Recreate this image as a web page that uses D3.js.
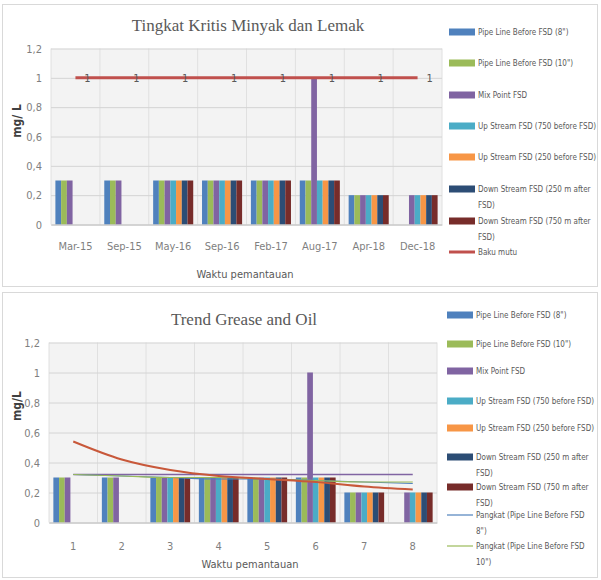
<!DOCTYPE html>
<html>
<head>
<meta charset="utf-8">
<script src="https://cdn.jsdelivr.net/npm/d3@7"></script>
<style>
  body { margin: 0; background: #fff; }
  svg { display: block; }
</style>
</head>
<body>
<svg width="601" height="580"></svg>
<script>
// data
var seriesNames = [
  'Pipe Line Before FSD (8")',
  'Pipe Line Before FSD (10")',
  "Mix Point FSD",
  "Up Stream FSD (750 before FSD)",
  "Up Stream FSD (250 before FSD)",
  "Down Stream FSD (250 m after FSD)",
  "Down Stream FSD (750 m after FSD)"
];
var topCategories = ["Mar-15", "Sep-15", "May-16", "Sep-16", "Feb-17", "Aug-17", "Apr-18", "Dec-18"];
var bottomCategories = ["1", "2", "3", "4", "5", "6", "7", "8"];

var pipeLine8     = [0.3, 0.3, 0.3, 0.3, 0.3, 0.3, 0.2, null];
var pipeLine10    = [0.3, 0.3, 0.3, 0.3, 0.3, 0.3, 0.2, null];
var mixPoint      = [0.3, 0.3, 0.3, 0.3, 0.3, 1,   0.2, 0.2];
var upStream750   = [null, null, 0.3, 0.3, 0.3, 0.3, 0.2, 0.2];
var upStream250   = [null, null, 0.3, 0.3, 0.3, 0.3, 0.2, 0.2];
var downStream250 = [null, null, 0.3, 0.3, 0.3, 0.3, 0.2, 0.2];
var downStream750 = [null, null, 0.3, 0.3, 0.3, 0.3, 0.2, 0.2];
var bakuMutu      = [1, 1, 1, 1, 1, 1, 1, 1];

// trend lines (read at each category)
var trendPipe8  = [0.32, 0.31, 0.30, 0.29, 0.29, 0.28, 0.27, 0.26];
var trendPipe10 = [0.32, 0.31, 0.30, 0.30, 0.29, 0.28, 0.27, 0.27];
var trendMix    = [0.32, 0.32, 0.32, 0.32, 0.32, 0.32, 0.32, 0.32];
var trendUp     = [0.54, 0.42, 0.35, 0.31, 0.29, 0.27, 0.24, 0.22];

var yTicks = [0, 0.2, 0.4, 0.6, 0.8, 1, 1.2];

var seriesValues = [pipeLine8, pipeLine10, mixPoint, upStream750, upStream250, downStream250, downStream750];
var colors = ["#4f81bd", "#9bbb59", "#8064a2", "#4bacc6", "#f79646", "#2c4d75", "#772c2a"];

var svg = d3.select("svg");
var fmt = function(v) { return String(v).replace(".", ","); };
var labelFont = "'Liberation Sans Narrow', 'DejaVu Sans Condensed', sans-serif";

// panel frames
svg.append("rect").attr("x", 2.5).attr("y", 4.5).attr("width", 595).attr("height", 282)
    .attr("fill", "#fff").attr("stroke", "#d9d9d9");
svg.append("rect").attr("x", 2.5).attr("y", 292.5).attr("width", 595).attr("height", 285)
    .attr("fill", "#fff").attr("stroke", "#d9d9d9");

function drawChart(cfg) {
  var g = svg.append("g");
  var w = cfg.right - cfg.left, h = cfg.bottom - cfg.top;

  var x0 = d3.scaleBand().domain(cfg.categories).range([cfg.left, cfg.right])
      .paddingInner(0.18).paddingOuter(0.09);
  var x1 = d3.scaleBand().domain(d3.range(seriesNames.length)).range([0, x0.bandwidth()]);
  var y = d3.scaleLinear().domain([0, 1.2]).range([cfg.bottom, cfg.top]);
  var cx = function(i) { return x0(cfg.categories[i]) + x0.bandwidth() / 2; };

  // plot background
  g.append("rect").attr("x", cfg.left).attr("y", cfg.top).attr("width", w).attr("height", h)
      .attr("fill", "#f3f3f3");

  // vertical grid at category boundaries
  var step = x0.step();
  g.selectAll(".vgrid").data(d3.range(cfg.categories.length + 1)).enter().append("line")
      .attr("x1", function(d) { return cfg.left + d * step; })
      .attr("x2", function(d) { return cfg.left + d * step; })
      .attr("y1", cfg.top).attr("y2", cfg.bottom)
      .attr("stroke", "#e0e0e0");

  // horizontal grid + y axis labels
  g.append("g")
      .attr("transform", "translate(" + cfg.left + ",0)")
      .call(d3.axisLeft(y).tickValues(yTicks).tickSize(-w).tickFormat(fmt))
      .call(function(a) {
        a.select(".domain").remove();
        a.selectAll("line").attr("stroke", "#d4d4d4");
        a.selectAll("text").attr("x", -9).attr("fill", "#7f7f7f")
            .style("font", "11px " + labelFont);
      });

  // bars
  seriesValues.forEach(function(vals, s) {
    g.selectAll(".bar" + s).data(vals.map(function(v, i) { return {v: v, i: i}; })
        .filter(function(d) { return d.v != null; }))
      .enter().append("rect")
        .attr("x", function(d) { return x0(cfg.categories[d.i]) + x1(s); })
        .attr("y", function(d) { return y(d.v); })
        .attr("width", x1.bandwidth())
        .attr("height", function(d) { return y(0) - y(d.v); })
        .attr("fill", colors[s]);
  });

  // x axis
  g.append("g")
      .attr("transform", "translate(0," + cfg.bottom + ")")
      .call(d3.axisBottom(x0).tickSize(0).tickPadding(cfg.tickPad))
      .call(function(a) {
        a.select(".domain").attr("stroke", "#bfbfbf");
        a.selectAll("text").attr("fill", "#7f7f7f").style("font", "11px " + labelFont);
      });

  // lines
  var line = d3.line()
      .x(function(d) { return cx(d.i); })
      .y(function(d) { return y(d.v); })
      .curve(d3.curveMonotoneX);
  cfg.lines.forEach(function(l) {
    g.append("path")
        .datum(l.values.map(function(v, i) { return {v: v, i: i}; }))
        .attr("d", line)
        .attr("fill", "none")
        .attr("stroke", l.color)
        .attr("stroke-width", l.width);
    if (l.labels) {
      g.selectAll(".lbl").data(l.values).enter().append("text")
          .attr("x", function(d, i) { return cx(i) + 12; })
          .attr("y", function(d) { return y(d) + 4; })
          .attr("text-anchor", "middle")
          .attr("fill", "#595959")
          .style("font", "11px " + labelFont)
          .text(function(d) { return d; });
    }
  });

  // titles
  g.append("text").attr("x", cfg.titleX).attr("y", cfg.titleY)
      .attr("text-anchor", "middle").attr("fill", "#595959")
      .style("font", "17px 'Liberation Serif', serif")
      .text(cfg.title);
  g.append("text").attr("x", cfg.xTitleX).attr("y", cfg.xTitleY)
      .attr("text-anchor", "middle").attr("fill", "#595959")
      .style("font", "11px " + labelFont)
      .text("Waktu pemantauan");
  g.append("text")
      .attr("transform", "translate(" + 21 + "," + cfg.yTitleY + ") rotate(-90)")
      .attr("text-anchor", "middle").attr("fill", "#404040")
      .style("font", "bold 12px " + labelFont)
      .text(cfg.yTitle);

  // legend
  var lg = g.append("g");
  cfg.legend.forEach(function(item) {
    if (item.type === "bar") {
      lg.append("rect").attr("x", cfg.legendX).attr("y", item.y - 3.5)
          .attr("width", 26).attr("height", 7).attr("fill", item.color);
    } else {
      lg.append("line").attr("x1", cfg.legendX).attr("x2", cfg.legendX + 26)
          .attr("y1", item.y).attr("y2", item.y)
          .attr("stroke", item.color).attr("stroke-width", item.width);
    }
    item.text.forEach(function(t, k) {
      lg.append("text").attr("x", cfg.legendX + 29).attr("y", item.y + 3 + k * 16)
          .attr("fill", "#595959")
          .style("font", "8px " + labelFont)
          .text(t);
    });
  });
}

var legendTexts = [
  ['Pipe Line Before FSD (8")'],
  ['Pipe Line Before FSD (10")'],
  ["Mix Point FSD"],
  ["Up Stream FSD (750 before FSD)"],
  ["Up Stream FSD (250 before FSD)"],
  ["Down Stream FSD (250 m after", "FSD)"],
  ["Down Stream FSD (750 m after", "FSD)"]
];

var topLegendY = [32, 63, 95, 126, 157, 189, 221];
var topLegend = legendTexts.map(function(t, i) {
  return {type: "bar", color: colors[i], y: topLegendY[i], text: t};
});
topLegend.push({type: "line", color: "#c0504d", width: 3, y: 252, text: ["Baku mutu"]});

var bottomLegendY = [315, 344, 371, 401, 428, 457, 487];
var bottomLegend = legendTexts.map(function(t, i) {
  return {type: "bar", color: colors[i], y: bottomLegendY[i], text: t};
});
bottomLegend.push({type: "line", color: "#4f81bd", width: 1.2, y: 515, text: ["Pangkat (Pipe Line Before FSD", '8")']});
bottomLegend.push({type: "line", color: "#9bbb59", width: 1.2, y: 546, text: ["Pangkat (Pipe Line Before FSD", '10")']});

drawChart({
  title: "Tingkat Kritis Minyak dan Lemak", titleX: 248, titleY: 31,
  categories: topCategories,
  left: 51, right: 442, top: 48.5, bottom: 224.5,
  tickPad: 18, xTitleX: 245, xTitleY: 278, yTitle: "mg/ L", yTitleY: 121,
  lines: [{values: bakuMutu, color: "#c0504d", width: 3, labels: true}],
  legendX: 449, legend: topLegend
});

drawChart({
  title: "Trend Grease and Oil", titleX: 244, titleY: 325,
  categories: bottomCategories,
  left: 49, right: 437, top: 342.5, bottom: 522.5,
  tickPad: 20, xTitleX: 250, xTitleY: 568, yTitle: "mg/L", yTitleY: 406,
  lines: [
    {values: trendMix, color: "#8064a2", width: 1.5},
    {values: trendPipe8, color: "#4f81bd", width: 1.2},
    {values: trendPipe10, color: "#9bbb59", width: 1.2},
    {values: trendUp, color: "#c8583a", width: 2}
  ],
  legendX: 447, legend: bottomLegend
});
</script>
</body>
</html>
